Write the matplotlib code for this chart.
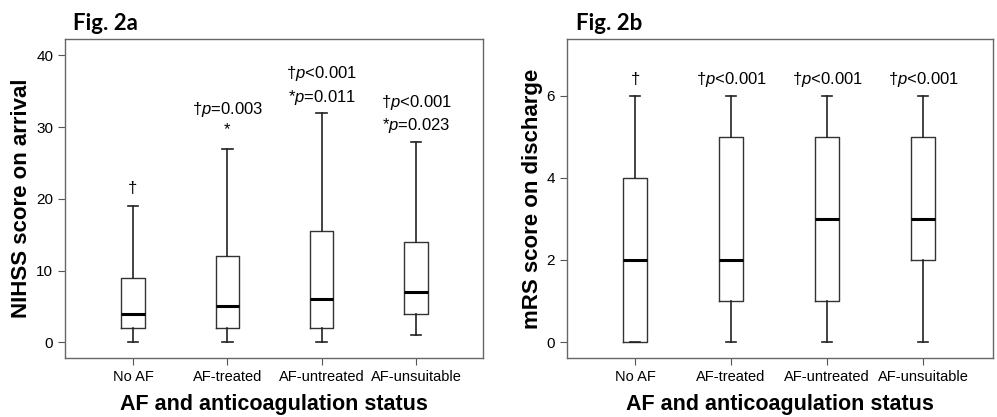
import matplotlib
matplotlib.use('Agg')
import matplotlib.pyplot as plt

plt.rcParams['font.family'] = ['Liberation Sans', 'DejaVu Sans']
plt.rcParams['mathtext.fontset'] = 'custom'
plt.rcParams['mathtext.rm'] = 'Liberation Sans'
plt.rcParams['mathtext.it'] = 'Liberation Sans:italic'

groups = ['No AF', 'AF-treated', 'AF-untreated', 'AF-unsuitable']

# NIHSS: whisker low, q1, median, q3, whisker high
nihss_lo = [0, 0, 0, 1]
nihss_q1 = [2, 2, 2, 4]
nihss_med = [4, 5, 6, 7]
nihss_q3 = [9, 12, 15.5, 14]
nihss_hi = [19, 27, 32, 28]

# mRS
mrs_lo = [0, 0, 0, 0]
mrs_q1 = [0, 1, 1, 2]
mrs_med = [2, 2, 3, 3]
mrs_q3 = [4, 5, 5, 5]
mrs_hi = [6, 6, 6, 6]

# annotations: (group index, y, text)
nihss_notes = [(0, 21.5, '†'),
               (1, 32.4, '†$p$=0.003'), (1, 29.6, '*'),
               (2, 37.5, '†$p$<0.001'), (2, 34.2, '*$p$=0.011'),
               (3, 33.5, '†$p$<0.001'), (3, 30.3, '*$p$=0.023')]
mrs_notes = [(0, 6.4, '†'), (1, 6.4, '†$p$<0.001'),
             (2, 6.4, '†$p$<0.001'), (3, 6.4, '†$p$<0.001')]


def make_stats(lo, q1, med, q3, hi):
    return [dict(whislo=a, q1=b, med=c, q3=d, whishi=e, fliers=[])
            for a, b, c, d, e in zip(lo, q1, med, q3, hi)]


def draw_panel(ax, stats, notes, ylim, yticks, ylabel, title, xlim):
    ax.bxp(stats, positions=[1, 2, 3, 4], widths=0.25, showfliers=False,
           boxprops=dict(color='#333333', linewidth=1),
           whiskerprops=dict(color='#222222', linewidth=1.2),
           capprops=dict(color='#222222', linewidth=1.2),
           medianprops=dict(color='black', linewidth=2.2),
           capwidths=0.11)
    ax.set_xlim(*xlim)
    ax.set_ylim(*ylim)
    ax.set_yticks(yticks)
    ax.set_xticks([1, 2, 3, 4])
    ax.set_xticklabels(groups, fontsize=10.5)
    ax.tick_params(axis='y', labelsize=11, length=5, color='#555555')
    ax.tick_params(axis='x', length=5, color='#555555')
    for s in ax.spines.values():
        s.set_color('#666666')
        s.set_linewidth(1)
    ax.set_ylabel(ylabel, fontsize=16, fontweight='bold', labelpad=3)
    ax.set_xlabel('AF and anticoagulation status', fontsize=15.5,
                  fontweight='bold', labelpad=7)
    for i, y, t in notes:
        ax.text(i + 1, y, t, ha='center', va='center', fontsize=12)
    ax.text(0.02, 1.015, title, transform=ax.transAxes, fontsize=16,
            fontweight='bold', family=['Lato', 'DejaVu Sans'], va='bottom')


fig = plt.figure(figsize=(9.97, 4.17), dpi=100)
ax1 = fig.add_axes([0.0652, 0.1415, 0.4193, 0.765])
ax2 = fig.add_axes([0.5687, 0.1415, 0.4273, 0.765])

draw_panel(ax1, make_stats(nihss_lo, nihss_q1, nihss_med, nihss_q3, nihss_hi),
           nihss_notes, (-2.2, 42.3), [0, 10, 20, 30, 40],
           'NIHSS score on arrival', 'Fig. 2a', (0.28, 4.71))
draw_panel(ax2, make_stats(mrs_lo, mrs_q1, mrs_med, mrs_q3, mrs_hi),
           mrs_notes, (-0.39, 7.39), [0, 2, 4, 6],
           'mRS score on discharge', 'Fig. 2b', (0.29, 4.73))

fig.savefig('out.png', dpi=100)
